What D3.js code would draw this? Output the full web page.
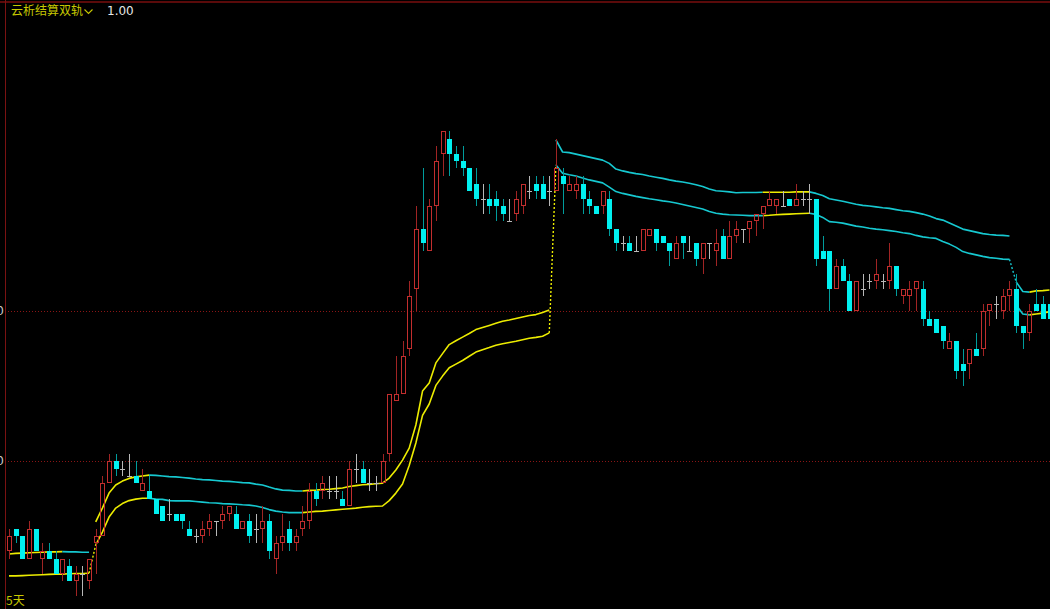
<!DOCTYPE html>
<html>
<head>
<meta charset="utf-8">
<script src="https://cdn.jsdelivr.net/npm/d3@7"></script>
<style>
html,body{margin:0;padding:0;background:#000;overflow:hidden;}
svg{display:block;}
</style>
</head>
<body>
<svg id="chart" width="1050" height="609"></svg>
<script>
// ---------- DATA ----------
const titleText = "云析结算双轨";
const paramText = "1.00";
const periodText = "5天";
const gridTicks = [10, 15];

const opens = [
7.0,7.75,7.5,6.75,7.75,6.75,7.0,6.75,6.25,6.5,
6.0,6.25,6.0,7.25,7.5,9.25,10.0,9.75,9.5,9.5,
9.0,9.0,8.75,8.5,8.25,8.25,8.25,7.75,7.5,7.5,
7.75,8.0,8.0,8.25,8.25,7.75,8.0,7.75,7.75,8.0,
6.75,7.25,7.75,7.25,7.75,8.0,9.0,9.0,9.0,9.0,
8.75,8.5,9.75,9.75,9.25,9.25,9.25,10.25,12.0,12.25,
13.75,15.75,17.75,17.0,18.5,20.25,20.75,20.25,20.0,19.75,
19.25,18.75,18.75,18.75,18.5,18.0,18.25,18.5,19.0,19.25,
19.25,19.0,19.0,19.5,19.0,19.0,19.25,18.75,18.5,18.5,
18.75,17.75,17.25,17.25,17.0,17.0,17.5,17.75,17.5,17.25,
16.75,17.5,17.0,17.25,16.75,17.25,17.0,17.5,16.75,17.5,
17.75,17.75,18.0,18.25,18.5,18.5,18.5,18.75,18.5,18.75,
18.75,18.75,17.0,17.0,15.75,16.5,16.0,15.0,15.75,16.0,
16.0,16.0,16.0,16.5,15.5,15.5,15.75,15.75,14.75,14.75,
14.5,13.75,14.0,13.25,13.25,13.75,13.75,15.0,15.25,15.0,
15.5,15.75,14.5,14.25,15.25,15.25,15.25];
const highs = [
7.75,7.75,7.5,8.0,7.75,7.25,7.25,7.0,6.75,6.75,
6.5,6.5,6.75,7.75,9.5,10.25,10.25,10.0,10.25,10.0,
9.75,9.5,8.75,8.5,8.75,8.25,8.25,8.0,7.75,8.0,
8.25,8.0,8.5,8.5,8.5,8.0,8.25,8.25,8.5,8.25,
7.5,8.25,8.0,7.75,8.5,9.25,9.25,9.5,9.5,9.5,
9.0,10.0,10.25,10.0,9.75,9.5,10.25,12.25,13.5,14.0,
16.0,18.5,19.75,18.75,20.5,21.0,21.0,20.5,20.5,19.75,
19.75,19.25,19.25,19.0,18.75,18.75,19.0,19.25,19.5,19.5,
19.5,19.5,20.75,19.75,19.5,19.5,19.5,19.0,18.5,19.0,
19.0,17.75,17.5,17.5,17.5,17.75,17.75,17.75,17.5,17.25,
17.5,17.5,17.5,17.25,17.25,17.25,17.75,17.75,18.0,18.0,
17.75,18.0,18.25,18.5,19.0,18.75,19.0,18.75,19.25,19.0,
19.25,18.75,17.5,17.0,16.75,16.75,16.25,16.0,16.25,16.25,
16.75,16.25,17.25,16.5,15.75,16.0,16.0,16.0,15.0,14.75,
14.5,14.25,14.0,13.75,13.75,14.25,15.25,15.25,15.5,15.75,
16.0,16.25,14.5,15.25,15.75,15.5,15.25];
const lows = [
6.75,7.25,6.75,6.75,7.0,6.25,6.75,6.25,6.0,6.0,
5.5,5.5,5.75,6.25,7.5,9.25,9.5,9.5,9.5,9.25,
9.0,8.75,8.25,8.0,8.0,8.0,7.75,7.5,7.25,7.25,
7.5,7.5,7.75,8.0,7.75,7.75,7.25,7.25,7.25,6.75,
6.25,7.0,7.0,7.0,7.5,7.75,8.5,8.75,8.75,8.75,
8.5,8.5,9.25,9.25,9.0,9.0,9.25,10.0,12.0,12.25,
13.5,15.0,17.0,17.0,18.0,19.5,19.5,19.75,19.5,19.0,
18.5,18.25,18.25,18.0,18.0,18.0,18.0,18.25,18.75,18.75,
18.75,18.5,19.0,18.25,19.0,18.75,18.25,18.25,18.25,18.25,
17.5,17.0,17.0,17.0,17.0,17.0,17.5,17.0,17.25,16.5,
16.75,16.75,17.0,16.5,16.25,16.75,16.5,16.75,16.75,17.25,
17.25,17.25,17.5,17.75,18.5,18.25,18.5,18.5,18.5,18.5,
18.25,16.5,16.75,15.0,15.75,16.0,15.0,15.0,15.5,15.75,
15.75,15.75,15.75,15.5,15.25,15.0,15.0,14.5,14.5,14.25,
13.75,13.75,12.75,12.5,12.75,13.5,13.5,14.5,14.75,14.75,
15.0,14.25,13.75,14.0,15.0,14.75,14.75];
const closes = [
7.5,7.5,6.75,7.75,7.0,7.0,6.75,6.25,6.75,6.0,
6.25,6.25,6.75,7.5,9.25,10.0,9.75,9.75,9.5,9.25,
9.25,8.75,8.25,8.0,8.25,8.0,8.0,7.5,7.5,7.75,
8.0,8.0,8.25,8.5,7.75,8.0,7.5,7.75,8.0,7.0,
7.25,7.5,7.25,7.5,8.0,9.0,8.75,9.25,9.0,9.0,
8.5,9.75,9.75,9.25,9.25,9.25,10.0,12.25,12.25,13.5,
15.5,17.75,17.25,18.5,20.0,21.0,20.25,20.0,19.75,19.0,
18.75,18.75,18.5,18.5,18.25,18.0,18.75,19.25,19.0,19.0,
18.75,19.0,19.75,19.25,19.25,19.25,18.75,18.5,18.25,19.0,
17.75,17.25,17.25,17.0,17.0,17.75,17.75,17.25,17.25,17.0,
17.25,17.25,17.0,16.75,17.25,17.25,17.25,16.75,17.5,17.75,
17.75,18.0,18.25,18.5,18.75,18.75,18.5,18.5,18.75,18.75,
18.75,16.75,16.75,15.75,16.5,16.0,15.0,16.0,15.75,16.0,
16.25,16.0,16.5,15.75,15.75,15.75,16.0,14.75,14.5,14.25,
14.0,14.0,13.0,13.0,13.75,13.5,15.0,15.25,15.25,15.5,
15.75,14.5,14.25,15.0,15.0,14.75,14.75];

const upperBand = [
6.90,6.92,6.93,6.94,6.95,6.96,6.97,6.97,6.98,6.97,6.97,6.96,6.96,
7.97,8.43,8.93,9.20,9.33,9.42,9.47,9.50,9.53,9.52,
9.50,9.48,9.47,9.45,9.43,9.40,9.38,9.37,9.35,9.33,
9.32,9.30,9.28,9.27,9.23,9.20,9.13,9.07,9.03,9.02,
9.00,9.00,9.02,9.03,9.05,9.06,9.08,9.10,9.15,9.18,
9.21,9.22,9.24,9.26,9.43,9.70,10.03,10.43,11.20,12.33,
12.60,13.27,13.58,13.88,14.01,14.13,14.25,14.38,14.45,14.52,
14.59,14.66,14.70,14.75,14.80,14.85,14.88,14.95,15.03,
20.70,20.30,20.28,20.23,20.18,20.13,20.08,20.03,19.92,19.73,
19.67,19.62,19.58,19.55,19.50,19.46,19.42,19.37,19.33,19.30,
19.26,19.21,19.15,19.07,19.01,18.99,18.97,18.94,18.95,18.95,
18.95,18.96,18.96,18.96,18.96,18.96,18.97,18.97,18.97,18.92,
18.85,18.74,18.70,18.66,18.61,18.56,18.52,18.50,18.47,18.44,
18.42,18.38,18.34,18.32,18.28,18.23,18.17,18.08,18.03,17.93,
17.83,17.73,17.68,17.63,17.58,17.55,17.53,17.52,17.50,
15.97,15.65,15.63,15.67,15.68,15.70];
const lowerBand = [
6.17,6.17,6.18,6.19,6.20,6.21,6.22,6.23,6.23,6.24,6.25,6.25,6.26,
7.20,7.63,8.13,8.43,8.58,8.68,8.73,8.76,8.76,8.73,
8.72,8.68,8.67,8.67,8.67,8.65,8.63,8.61,8.60,8.58,
8.57,8.56,8.54,8.53,8.50,8.45,8.38,8.33,8.30,8.28,
8.28,8.28,8.30,8.32,8.33,8.35,8.37,8.39,8.41,8.43,
8.46,8.48,8.49,8.50,8.68,8.93,9.23,9.85,10.60,11.52,
11.90,12.52,12.83,13.11,13.23,13.35,13.49,13.63,13.71,13.78,
13.86,13.91,13.95,13.99,14.04,14.09,14.12,14.16,14.27,
19.87,19.59,19.54,19.50,19.43,19.37,19.32,19.27,19.13,18.98,
18.92,18.87,18.82,18.78,18.74,18.71,18.67,18.64,18.60,18.55,
18.50,18.45,18.40,18.32,18.26,18.23,18.21,18.20,18.19,18.18,
18.18,18.18,18.19,18.21,18.22,18.23,18.24,18.25,18.26,18.22,
18.12,17.98,17.96,17.93,17.88,17.83,17.80,17.76,17.73,17.71,
17.68,17.65,17.61,17.58,17.52,17.47,17.44,17.42,17.32,17.23,
17.12,16.98,16.92,16.87,16.82,16.78,16.76,16.73,16.72,
15.20,14.90,14.87,14.90,14.93,14.98];

// settlement segments (start index of each) and colour runs [startIndex, tone]
const segmentStarts = [0, 13, 82, 151];
const connectorTargets = ["lower", "lower", "upper"];
const upperRuns = [[0,"Y"],[8,"C"],[13,"Y"],[21,"C"],[44,"Y"],[82,"C"],[113,"Y"],[120,"C"],[153,"Y"]];
const lowerRuns = [[0,"Y"],[21,"C"],[44,"Y"],[82,"C"],[113,"Y"],[120,"C"],[153,"Y"]];

// ---------- STYLE ----------
const W = 1050, H = 609;
const COL = {
  bg: "#000000",
  frame: "#7a1212",
  frameTop: "#5a0a0a",
  grid: "#8a1515",
  upBody: "#c22e2e",
  upWick: "#a02424",
  downBody: "#00f0f0",
  downWick: "#009c9c",
  doji: "#b8b8b8",
  Y: "#ecec00",
  C: "#16c8d0",
  title: "#c8c800",
  param: "#e6e6e6",
  axisText: "#c8c8c8"
};

const svg = d3.select("#chart");
svg.append("rect").attr("width", W).attr("height", H).attr("fill", COL.bg);

const n = closes.length;
const x = d3.scaleLinear().domain([0, n - 1]).range([9, 1049.5]);
const y = d3.scaleLinear().domain([5, 25]).range([611, 11]);

// grid via axis
const axis = d3.axisLeft(y).tickValues(gridTicks).tickFormat(d3.format(".2f"))
  .tickSize(-(W - 5)).tickPadding(1);
const gAxis = svg.append("g").attr("transform", "translate(5,0)").call(axis);
gAxis.select(".domain").remove();
gAxis.selectAll(".tick line").attr("stroke", COL.grid).attr("stroke-dasharray", "1,2")
  .attr("shape-rendering", "crispEdges");
gAxis.selectAll(".tick").attr("transform", d => `translate(0,${Math.round(y(d)) + 0.5})`);
gAxis.selectAll(".tick text").attr("fill", COL.axisText)
  .style("font-family", "'DejaVu Sans', Arial, sans-serif").style("font-size", "12px");

// frame lines
svg.append("rect").attr("x", 0).attr("y", 1).attr("width", W).attr("height", 2).attr("fill", COL.frameTop);
svg.append("line").attr("x1", 5.5).attr("x2", 5.5).attr("y1", 0).attr("y2", H)
  .attr("stroke", COL.frame).attr("stroke-width", 1);

// ---------- bands ----------
function toneAt(runs, i) {
  let t = runs[0][1];
  for (const r of runs) if (i >= r[0]) t = r[1];
  return t;
}
const gBands = svg.append("g");
const line = d3.line().x(d => x(d[0])).y(d => y(d[1]));
const segEnds = segmentStarts.slice(1).map(s => s - 1).concat([n - 1]);

function drawBand(values, runs) {
  segmentStarts.forEach((s, k) => {
    const e = segEnds[k];
    let pts = [[s, values[s]]];
    let tone = toneAt(runs, s);
    for (let i = s; i < e; i++) {
      const t = toneAt(runs, i);
      if (t !== tone) {
        gBands.append("path").attr("d", line(pts)).attr("fill", "none")
          .attr("stroke", COL[tone]).attr("stroke-width", 1.6).attr("stroke-linejoin", "round");
        pts = [[i, values[i]]];
        tone = t;
      }
      pts.push([i + 1, values[i + 1]]);
    }
    if (pts.length > 1) {
      gBands.append("path").attr("d", line(pts)).attr("fill", "none")
        .attr("stroke", COL[tone]).attr("stroke-width", 1.6).attr("stroke-linejoin", "round");
    }
  });
}
drawBand(upperBand, upperRuns);
drawBand(lowerBand, lowerRuns);

// dotted connectors between settlement segments
segmentStarts.slice(1).forEach((s, k) => {
  const target = connectorTargets[k] === "upper" ? upperBand : lowerBand;
  gBands.append("line")
    .attr("x1", x(s - 1)).attr("y1", y(lowerBand[s - 1]))
    .attr("x2", x(s)).attr("y2", y(target[s]))
    .attr("stroke", COL[toneAt(lowerRuns, s - 1)]).attr("stroke-width", 1.4)
    .attr("stroke-dasharray", "2,2");
});

// ---------- candles ----------
const candles = d3.range(n).map(i => ({i, o: opens[i], h: highs[i], l: lows[i], c: closes[i]}));
const gC = svg.append("g").attr("shape-rendering", "crispEdges");
candles.forEach(d => {
  const cx = Math.round(x(d.i));
  const yo = Math.round(y(d.o)), yc = Math.round(y(d.c));
  const yh = Math.round(y(d.h)), yl = Math.round(y(d.l));
  if (d.c > d.o) {
    if (yh < yc) gC.append("line").attr("x1", cx + 0.5).attr("x2", cx + 0.5).attr("y1", yh).attr("y2", yc)
      .attr("stroke", COL.upWick);
    if (yl > yo) gC.append("line").attr("x1", cx + 0.5).attr("x2", cx + 0.5).attr("y1", yo).attr("y2", yl)
      .attr("stroke", COL.upWick);
    gC.append("rect").attr("x", cx - 1.5).attr("y", yc + 0.5).attr("width", 4)
      .attr("height", Math.max(1, yo - yc - 1)).attr("fill", "none")
      .attr("stroke", COL.upBody).attr("stroke-width", 1);
  } else if (d.c < d.o) {
    gC.append("line").attr("x1", cx + 0.5).attr("x2", cx + 0.5).attr("y1", yh).attr("y2", yl)
      .attr("stroke", COL.downWick);
    gC.append("rect").attr("x", cx - 2).attr("y", yo).attr("width", 5)
      .attr("height", Math.max(1, yc - yo)).attr("fill", COL.downBody);
  } else {
    gC.append("line").attr("x1", cx + 0.5).attr("x2", cx + 0.5).attr("y1", yh).attr("y2", yl)
      .attr("stroke", COL.doji);
    gC.append("line").attr("x1", cx - 2).attr("x2", cx + 3).attr("y1", yc + 0.5).attr("y2", yc + 0.5)
      .attr("stroke", COL.doji);
  }
});

// ---------- texts ----------
svg.append("text").attr("x", 11).attr("y", 15).text(titleText)
  .attr("fill", COL.title).style("font-family", "'Noto Sans CJK SC', sans-serif").style("font-size", "12px");
svg.append("path").attr("d", "M84.5,9.5 L88.5,13.5 L92.5,9.5").attr("fill", "none")
  .attr("stroke", COL.title).attr("stroke-width", 1.1);
svg.append("text").attr("x", 107).attr("y", 15).text(paramText)
  .attr("fill", COL.param).style("font-family", "'DejaVu Sans', Arial, sans-serif").style("font-size", "12px");
svg.append("text").attr("x", 6).attr("y", 605).text(periodText)
  .attr("fill", COL.title).style("font-family", "'Noto Sans CJK SC', sans-serif").style("font-size", "12px");
</script>
</body>
</html>
